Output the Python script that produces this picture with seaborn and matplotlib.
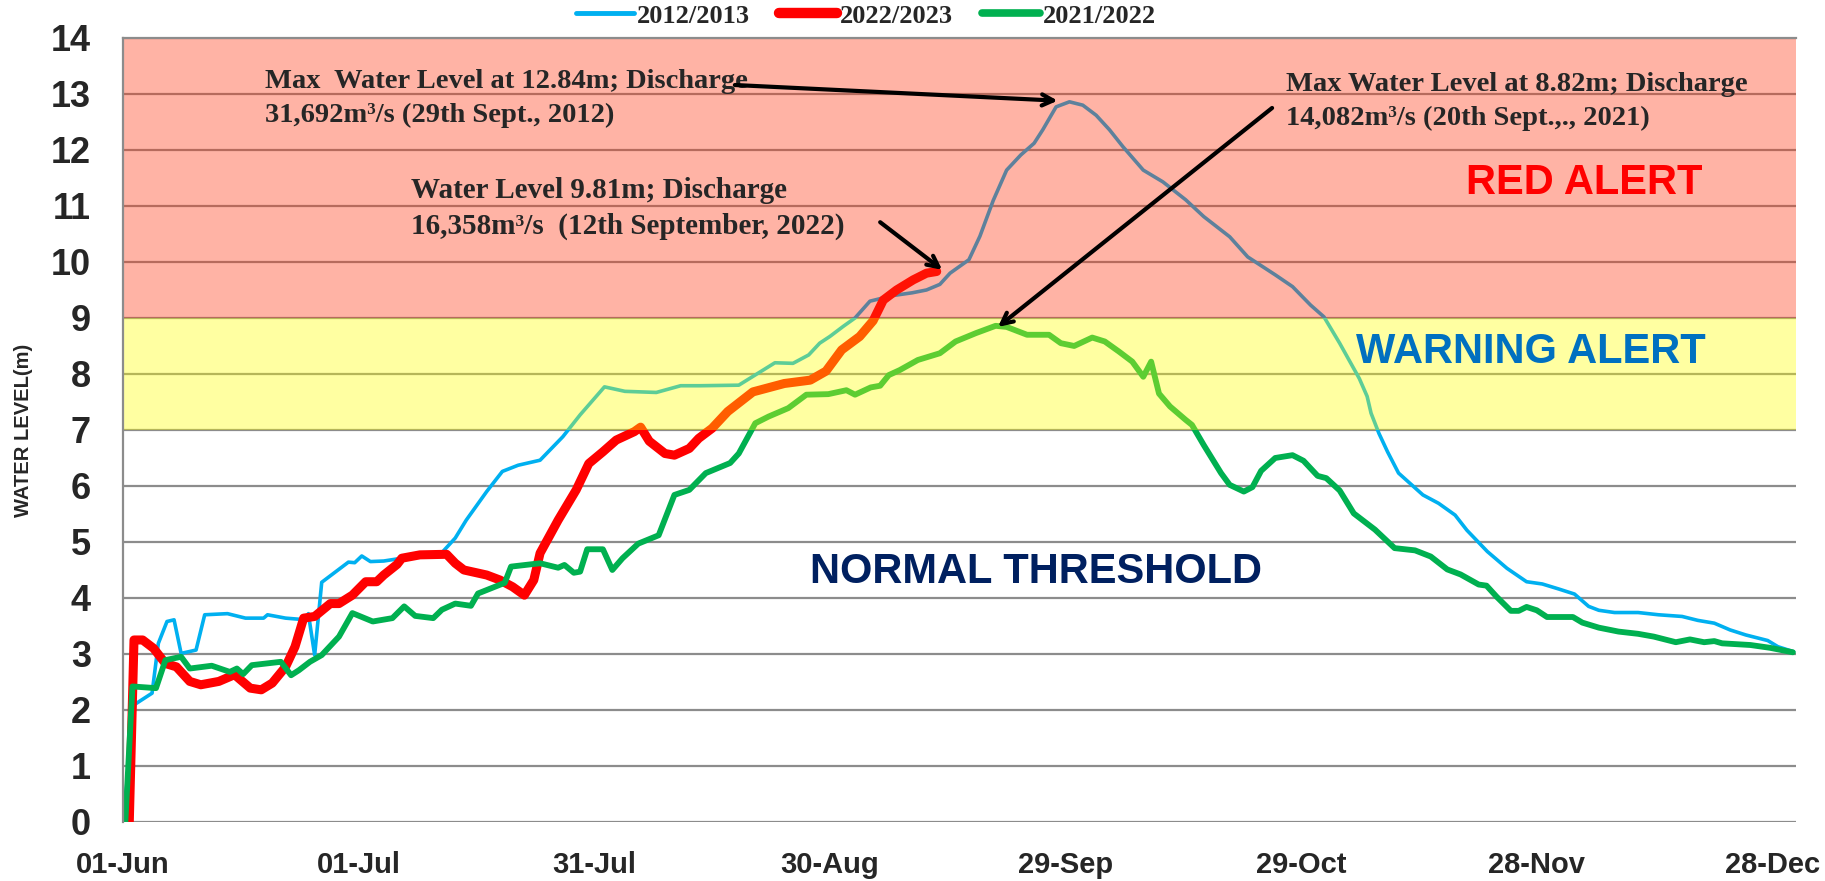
import matplotlib
matplotlib.use("Agg")
import matplotlib.pyplot as plt
from matplotlib.lines import Line2D
import seaborn as sns

# day offsets counted from 01-Jun, water level in metres
days_2012 = [0, 1.5, 3.7, 4.5, 5.6, 6.5, 7.4, 9.3, 10.4, 13.3, 15.6, 17.9, 18.4, 20.7, 23.3, 23.6,
             24.4, 25.3, 28.7, 29.5, 30.4, 31.5, 33.2, 35.5, 37.8, 40.6, 42.3, 43.7, 46.3, 48.3,
             50.3, 53.1, 56.0, 58.2, 61.3, 63.9, 67.9, 71.0, 73.5, 78.4, 80.7, 83.0, 85.3, 87.3,
             88.7, 90.0, 91.7, 93.2, 95.1, 98.0, 100.5, 102.3, 104.0, 105.3, 107.7, 109.1, 110.8,
             112.5, 114.3, 116.0, 117.1, 118.8, 120.5, 122.2, 123.9, 125.6, 127.3, 129.9, 132.4,
             135.3, 137.6, 140.9, 143.2, 146.7, 148.9, 151.2, 152.9, 154.9, 157.4, 158.4, 158.9,
             159.9, 161.0, 162.4, 165.5, 167.5, 169.6, 171.1, 173.7, 176.2, 178.7, 180.7, 182.8,
             184.8, 186.6, 187.9, 189.9, 192.9, 195.5, 198.5, 200.5, 202.6, 204.6, 206.6, 209.4,
             210.7, 212.7]
level_2012 = [0, 2.1, 2.3, 3.19, 3.58, 3.61, 3.01, 3.07, 3.70, 3.72, 3.64, 3.64, 3.70, 3.64, 3.61, 3.72,
              2.98, 4.28, 4.64, 4.63, 4.75, 4.65, 4.66, 4.71, 4.79, 4.81, 5.07, 5.39, 5.90, 6.26,
              6.37, 6.46, 6.88, 7.27, 7.77, 7.69, 7.67, 7.79, 7.79, 7.80, 8.00, 8.20, 8.19, 8.34,
              8.55, 8.67, 8.85, 9.00, 9.30, 9.40, 9.45, 9.50, 9.60, 9.80, 10.04, 10.46, 11.10,
              11.64, 11.91, 12.12, 12.36, 12.77, 12.86, 12.80, 12.62, 12.36, 12.06, 11.64, 11.43,
              11.11, 10.81, 10.45, 10.09, 9.77, 9.56, 9.23, 9.02, 8.55, 7.92, 7.60, 7.30,
              6.94, 6.61, 6.23, 5.84, 5.69, 5.48, 5.21, 4.83, 4.53, 4.29, 4.25, 4.16,
              4.07, 3.85, 3.78, 3.74, 3.74, 3.70, 3.67, 3.60, 3.55, 3.43, 3.34, 3.24,
              3.13, 3.04]

days_2022 = [0.8, 1.4, 2.5, 3.9, 5.4, 6.8, 8.5, 9.9, 12.2, 14.2, 16.2, 17.6, 19.0, 20.7, 21.9, 23.0,
             24.4, 26.4, 27.5, 29.2, 30.9, 32.3, 33.2, 34.9, 35.5, 37.8, 41.2, 42.3, 43.4, 46.3,
             48.0, 49.6, 51.1, 52.3, 53.1, 55.4, 57.7, 59.3, 61.1, 62.8, 65.1, 65.9, 67.0, 69.0,
             70.2, 72.1, 73.3, 75.0, 77.0, 80.2, 84.2, 87.5, 89.5, 91.5, 93.8, 95.5, 96.8, 98.5,
             100.6, 102.3, 103.6]
level_2022 = [0, 3.25, 3.25, 3.10, 2.83, 2.77, 2.51, 2.45, 2.51, 2.63, 2.39, 2.36, 2.48, 2.77, 3.13, 3.64,
              3.67, 3.90, 3.90, 4.05, 4.29, 4.29, 4.41, 4.60, 4.71, 4.77, 4.78, 4.62, 4.50, 4.41,
              4.32, 4.20, 4.05, 4.32, 4.80, 5.39, 5.93, 6.40, 6.61, 6.82, 6.97, 7.05, 6.80, 6.58,
              6.55, 6.67, 6.85, 7.03, 7.33, 7.68, 7.83, 7.89, 8.05, 8.43, 8.67, 8.95, 9.32, 9.50,
              9.68, 9.80, 9.83]

days_2021 = [0.3, 1.2, 4.2, 5.4, 7.4, 8.5, 11.3, 13.6, 14.5, 15.3, 16.4, 20.1, 21.4, 22.4, 23.8, 25.3,
             27.5, 29.2, 31.8, 34.3, 35.8, 37.2, 39.5, 40.6, 42.3, 44.3, 45.2, 48.6, 49.4, 53.1,
             55.4, 56.2, 57.4, 58.2, 59.1, 61.1, 62.3, 63.6, 65.6, 68.2, 70.2, 72.1, 74.2, 77.3,
             78.4, 80.5, 82.2, 84.7, 87.0, 89.8, 92.1, 93.2, 95.2, 96.4, 97.5, 98.9, 101.2, 104.0,
             106.0, 108.6, 111.1, 112.5, 115.1, 117.9, 119.4, 121.1, 123.4, 125.0, 126.8, 128.5,
             129.9, 130.9, 131.9, 133.3, 135.3, 136.1, 137.6, 139.8, 140.9, 142.7, 143.8, 144.9,
             146.7, 148.9, 150.3, 152.1, 153.2, 154.9, 156.7, 159.4, 161.9, 164.5, 166.5, 168.6,
             170.3, 172.6, 173.6, 174.9, 176.7, 177.7, 178.7, 180.0, 181.3, 184.6, 185.8, 187.9,
             190.4, 192.9, 194.9, 197.7, 199.5, 201.3, 202.6, 203.6, 207.2, 209.7, 212.6]
level_2021 = [0, 2.42, 2.39, 2.89, 2.95, 2.74, 2.79, 2.68, 2.74, 2.64, 2.80, 2.86, 2.62, 2.71, 2.86, 2.98,
              3.31, 3.73, 3.58, 3.64, 3.85, 3.68, 3.64, 3.79, 3.90, 3.86, 4.08, 4.27, 4.56, 4.62,
              4.54, 4.59, 4.45, 4.47, 4.87, 4.87, 4.50, 4.71, 4.97, 5.12, 5.84, 5.93, 6.23, 6.41,
              6.58, 7.12, 7.24, 7.39, 7.63, 7.64, 7.71, 7.63, 7.76, 7.79, 7.98, 8.07, 8.25, 8.37,
              8.58, 8.73, 8.86, 8.84, 8.70, 8.70, 8.55, 8.50, 8.65, 8.58, 8.40, 8.22,
              7.95, 8.22, 7.65, 7.42, 7.18, 7.09, 6.73, 6.23, 6.02, 5.90, 5.98, 6.27,
              6.50, 6.55, 6.45, 6.18, 6.14, 5.92, 5.51, 5.22, 4.89, 4.85, 4.74, 4.51,
              4.42, 4.24, 4.22, 4.02, 3.77, 3.77, 3.84, 3.78, 3.66, 3.66, 3.56, 3.47,
              3.40, 3.36, 3.31, 3.21, 3.26, 3.21, 3.23, 3.19, 3.16, 3.11, 3.03]

tick_days = [0, 30, 60, 90, 120, 150, 180, 210]
tick_labels = ["01-Jun", "01-Jul", "31-Jul", "30-Aug", "29-Sep", "29-Oct", "28-Nov", "28-Dec"]
y_ticks = list(range(0, 15))

sns.set_style("white")
plt.rcParams["font.family"] = ["Liberation Sans", "DejaVu Sans"]
serif = ["Liberation Serif", "DejaVu Serif"]

fig = plt.figure(figsize=(18.25, 8.81), dpi=100)
ax = fig.add_axes([0.0674, 0.0670, 0.9167, 0.8899])

series = [
    ("2012/2013", days_2012, level_2012, "#00B0F0", 2.6, 2.1, 3.5),
    ("2022/2023", days_2022, level_2022, "#FF0000", 6.5, 2.2, 7.5),
    ("2021/2022", days_2021, level_2021, "#00B050", 4.2, 2.3, 5.5),
]
handles = []
for name, d, v, color, lw, z, leg_lw in series:
    sns.lineplot(x=d, y=v, ax=ax, color=color, linewidth=lw, zorder=z,
                 estimator=None, sort=False, legend=False,
                 solid_capstyle="round", solid_joinstyle="round")
    handles.append(Line2D([0], [0], color=color, lw=leg_lw, solid_capstyle="round"))

# alert zones, laid over the lines like the original
ax.axhspan(9, 14, color=(1.0, 0.2, 0.05), alpha=0.37, lw=0, zorder=3)
ax.axhspan(7, 9, color=(1.0, 1.0, 0.0), alpha=0.37, lw=0, zorder=3)

ax.set_xlim(0, 213)
ax.set_ylim(0, 14)
ax.set_xticks(tick_days)
ax.set_xticklabels(tick_labels, fontweight="bold")
ax.set_yticks(y_ticks)
ax.set_yticklabels([str(t) for t in y_ticks], fontweight="bold")
ax.tick_params(axis="y", length=0, labelsize=26, pad=23)
ax.tick_params(axis="x", length=0, labelsize=21, pad=21)
ax.yaxis.grid(True, color="#8C8C8C", lw=1.6)
ax.set_axisbelow(True)
for side in ["right", "bottom"]:
    ax.spines[side].set_visible(False)
for side in ["left", "top"]:
    ax.spines[side].set_color("#8C8C8C")
    ax.spines[side].set_linewidth(1.6)
    ax.spines[side].set_zorder(4)

ax.set_xlabel("")
ax.set_ylabel("WATER LEVEL(m)", fontsize=14.5, fontweight="bold")
ax.yaxis.set_label_coords(-0.054, 0.5)

# zone labels
ax.text(186.1, 11.41, "RED ALERT", color="#FF0000", fontsize=30, fontweight="bold",
        ha="center", va="center", zorder=5)
ax.text(179.2, 8.39, "WARNING ALERT", color="#0070C0", fontsize=30, fontweight="bold",
        ha="center", va="center", zorder=5)
ax.text(116.2, 4.46, "NORMAL THRESHOLD", color="#002060", fontsize=30, fontweight="bold",
        ha="center", va="center", zorder=5)

# peak notes
ax.text(18.1, 12.92, "Max  Water Level at 12.84m; Discharge\n31,692m³/s (29th Sept., 2012)",
        family=serif, fontweight="bold", fontsize=20.5, ha="left", va="center",
        linespacing=1.45, zorder=5)
ax.text(36.7, 10.96, "Water Level 9.81m; Discharge\n16,358m³/s  (12th September, 2022)",
        family=serif, fontweight="bold", fontsize=21, ha="left", va="center",
        linespacing=1.4, zorder=5)
ax.text(148.1, 12.87, "Max Water Level at 8.82m; Discharge\n14,082m³/s (20th Sept.,., 2021)",
        family=serif, fontweight="bold", fontsize=20.5, ha="left", va="center",
        linespacing=1.45, zorder=5)

arrow = dict(arrowstyle="->,head_length=0.8,head_width=0.4", color="black", lw=3,
             shrinkA=0, shrinkB=0)
ax.annotate("", xy=(119.0, 12.88), xytext=(77.9, 13.16), arrowprops=arrow, zorder=5)
ax.annotate("", xy=(104.3, 9.86), xytext=(96.4, 10.71), arrowprops=arrow, zorder=5)
ax.annotate("", xy=(111.4, 8.84), xytext=(146.3, 12.75), arrowprops=arrow, zorder=5)

fig.legend(handles, [s[0] for s in series], loc="center",
           bbox_to_anchor=(866 / 1825, 1 - 16 / 881), ncol=3, frameon=False,
           prop=dict(family=serif, weight="bold", size=19),
           handlelength=2.2, handletextpad=0.1, columnspacing=1.1)

fig.savefig("out.png", dpi=100)
